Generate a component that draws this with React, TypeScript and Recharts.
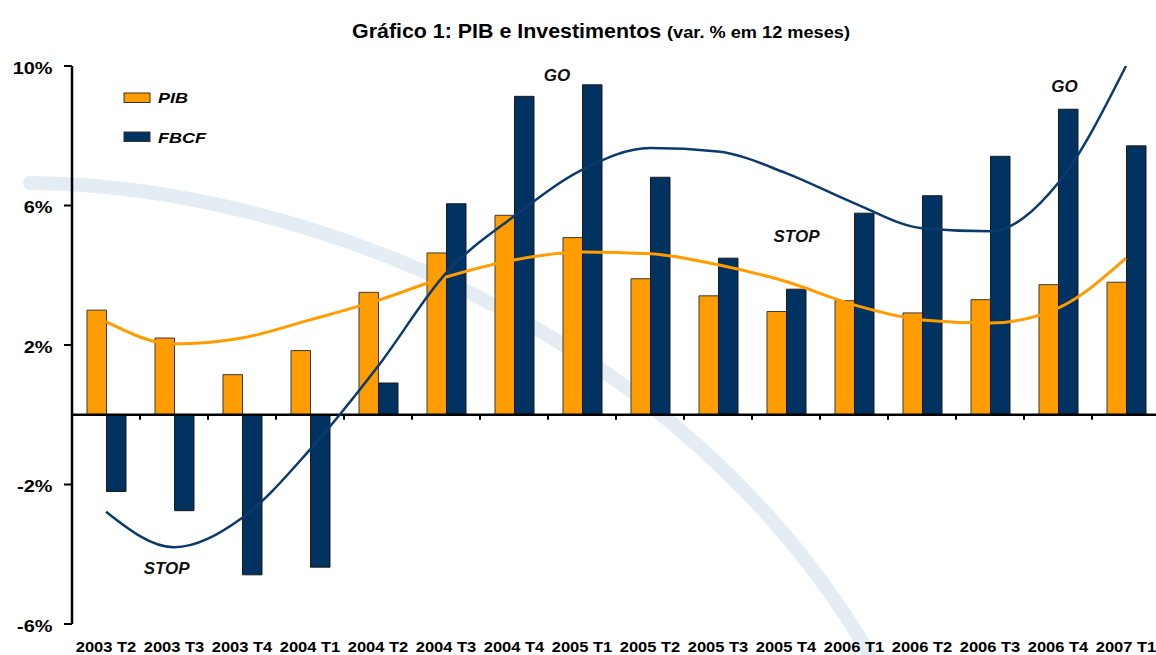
import React from 'react';
import { ComposedChart, Bar, Line, XAxis, YAxis, ReferenceLine } from 'recharts';

const categories = ['2003 T2', '2003 T3', '2003 T4', '2004 T1', '2004 T2', '2004 T3', '2004 T4', '2005 T1', '2005 T2', '2005 T3', '2005 T4', '2006 T1', '2006 T2', '2006 T3', '2006 T4', '2007 T1'];
const pib = [3.0, 2.2, 1.15, 1.84, 3.51, 4.64, 5.72, 5.08, 3.9, 3.41, 2.96, 3.27, 2.92, 3.3, 3.73, 3.8];
const fbcf = [-2.2, -2.75, -4.59, -4.37, 0.91, 6.05, 9.13, 9.46, 6.81, 4.49, 3.6, 5.78, 6.28, 7.41, 8.76, 7.71];
const pibTrend = [2.67, 2.03, 2.2, 2.72, 3.28, 3.95, 4.44, 4.67, 4.62, 4.3, 3.82, 3.15, 2.72, 2.63, 3.06, 4.49];
const fbcfTrend = [-2.78, -3.8, -2.96, -1.0, 1.39, 4.06, 5.69, 7.02, 7.65, 7.55, 6.93, 6.07, 5.35, 5.26, 6.64, 10.0];
const yTicks = [-6, -2, 2, 6, 10];
const seriesNames = ['PIB', 'FBCF'];

const data = categories.map((c, i) => ({
  cat: c,
  PIB: pib[i],
  FBCF: fbcf[i],
  pibTrend: pibTrend[i],
  fbcfTrend: fbcfTrend[i],
}));

const ORANGE = '#FF9C00';
const NAVY = '#003262';
const NAVY_LINE = '#0B3A6E';
const FONT = '"Liberation Sans", Arial, sans-serif';

const CHART_W = 1170;
const CHART_H = 655;
const M_TOP = 66;
const M_RIGHT = 10;
const Y_W = 72;
const X_H = 31;
const PLOT_H = CHART_H - M_TOP - X_H;
const PLOT_W = CHART_W - M_RIGHT - Y_W;
const DOMAIN: [number, number] = [-6, 10];
const BAND = PLOT_W / categories.length;
const ZERO_UP = (PLOT_H * (0 - DOMAIN[0])) / (DOMAIN[1] - DOMAIN[0]);

const XTick = (props: any) => {
  const { x, y, payload, index } = props;
  const zeroY = y - ZERO_UP;
  return (
    <g>
      {index < categories.length - 1 && (
        <line x1={x + BAND / 2} x2={x + BAND / 2} y1={zeroY} y2={zeroY + 5} stroke="#000" strokeWidth={2} />
      )}
      <text
        transform={`translate(${x},${y + 27.5}) scale(1.14,1)`}
        textAnchor="middle"
        fontFamily={FONT}
        fontWeight="bold"
        fontSize={14.5}
        fill="#000"
      >
        {payload.value}
      </text>
    </g>
  );
};

const YTick = (props: any) => {
  const { x, y, payload } = props;
  return (
    <text
      transform={`translate(${x - 1.5},${y + 7.5}) scale(1.17,1)`}
      textAnchor="end"
      fontFamily={FONT}
      fontWeight="bold"
      fontSize={17}
      fill="#000"
    >
      {`${payload.value}%`}
    </text>
  );
};

const legendItems = [
  { name: seriesNames[0], color: ORANGE, top: 93, base: 103.3 },
  { name: seriesNames[1], color: NAVY, top: 132, base: 142.5 },
];

const annotations = [
  { text: 'GO', x: 557, y: 80.5 },
  { text: 'GO', x: 1064.5, y: 91.5 },
  { text: 'STOP', x: 796.5, y: 241.5 },
  { text: 'STOP', x: 166.7, y: 573.5 },
];

export default function App() {
  return (
    <div style={{ position: 'absolute', left: 0, top: 0, width: 1156, height: 655, overflow: 'hidden', background: '#fff' }}>
      <svg width={1156} height={655} style={{ position: 'absolute', left: 0, top: 0 }}>
        <path d="M 30 183 C 300 185, 680 330, 870 655" fill="none" stroke="#e4edf3" strokeWidth={14} strokeLinecap="round" />
      </svg>
      <ComposedChart
        width={CHART_W}
        height={CHART_H}
        data={data}
        margin={{ top: M_TOP, right: M_RIGHT, left: 0, bottom: 0 }}
        barGap={0}
        style={{ position: 'absolute', left: 0, top: 0 }}
      >
        <XAxis
          dataKey="cat"
          height={X_H}
          axisLine={false}
          tickLine={false}
          tickSize={0}
          tickMargin={0}
          interval={0}
          tick={<XTick />}
        />
        <YAxis
          width={Y_W}
          domain={DOMAIN}
          ticks={yTicks}
          allowDataOverflow
          axisLine={{ stroke: '#000', strokeWidth: 2.5 }}
          tickLine={{ stroke: '#000', strokeWidth: 2 }}
          tickSize={8}
          tickMargin={10}
          tick={<YTick />}
        />
        <Bar dataKey="PIB" fill={ORANGE} stroke="#3a3a3a" strokeWidth={1} barSize={19.5} isAnimationActive={false} />
        <Bar dataKey="FBCF" fill={NAVY} stroke="#1a1a1a" strokeWidth={1} barSize={19.5} isAnimationActive={false} />
        <ReferenceLine y={0} stroke="#000" strokeWidth={2.5} />
        <Line type="monotone" dataKey="pibTrend" stroke={ORANGE} strokeWidth={3} dot={false} activeDot={false} isAnimationActive={false} />
        <Line type="monotone" dataKey="fbcfTrend" stroke={NAVY_LINE} strokeWidth={2.5} dot={false} activeDot={false} isAnimationActive={false} />
      </ComposedChart>
      <svg width={1156} height={655} style={{ position: 'absolute', left: 0, top: 0, pointerEvents: 'none' }}>
        <text transform="translate(601,38) scale(1.07,1)" textAnchor="middle" fontFamily={FONT} fontWeight="bold" fill="#000">
          <tspan fontSize={20}>Gráfico 1: PIB e Investimentos </tspan>
          <tspan fontSize={17}>(var. % em 12 meses)</tspan>
        </text>
        {legendItems.map((it) => (
          <g key={it.name}>
            <rect x={124} y={it.top} width={26} height={9.5} fill={it.color} stroke="#333" strokeWidth={1} />
            <text
              transform={`translate(158,${it.base}) scale(1.2,1)`}
              fontFamily={FONT}
              fontWeight="bold"
              fontStyle="italic"
              fontSize={15}
              fill="#000"
            >
              {it.name}
            </text>
          </g>
        ))}
        {annotations.map((a, i) => (
          <text
            key={i}
            x={a.x}
            y={a.y}
            textAnchor="middle"
            fontFamily={FONT}
            fontWeight="bold"
            fontStyle="italic"
            fontSize={17}
            fill="#111"
          >
            {a.text}
          </text>
        ))}
      </svg>
    </div>
  );
}
